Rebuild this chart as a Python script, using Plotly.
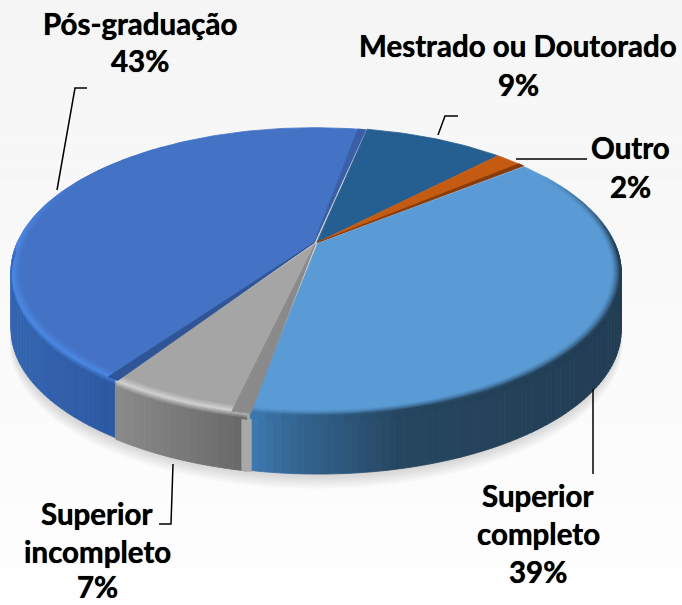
import math
import plotly.graph_objects as go

# ---- data ----
categories = ["Mestrado ou Doutorado", "Outro", "Superior completo", "Superior incompleto", "Pós-graduação"]
values = [9, 2, 38.7, 6.5, 43.8]
label_lines = [["Mestrado ou Doutorado", "9%"], ["Outro", "2%"], ["Superior", "completo", "39%"],
               ["Superior", "incompleto", "7%"], ["Pós-graduação", "43%"]]
face_colors = ["#255e91", "#c55a11", "#5b9bd5", "#a5a5a5", "#4472c4"]
label_x = [518, 630, 538, 97, 140]
label_y = [[45, 84], [147, 186], [495, 533, 571], [513, 551, 586], [23, 60]]

# ---- geometry of the tilted pie (pixels) ----
XC, YC, A, B, K, DEPTH = 316, 243, 297, 138, 0.199, 58
START = 11.7
EXPLODE = 0.007


def hex2rgb(h):
    return tuple(int(h[i:i + 2], 16) for i in (1, 3, 5))


def mix(c1, c2, t):
    a, b = hex2rgb(c1), hex2rgb(c2)
    t = max(0, min(1, t))
    return "#%02x%02x%02x" % tuple(round(a[i] + (b[i] - a[i]) * t) for i in range(3))


def ramp(stops, x):
    if x <= stops[0][0]:
        return stops[0][1]
    for (x0, c0), (x1, c1) in zip(stops, stops[1:]):
        if x <= x1:
            return mix(c0, c1, (x - x0) / (x1 - x0))
    return stops[-1][1]


def P(th, r=1.0, z=0.0, off=(0, 0)):
    t = math.radians(th)
    u, v = r * math.sin(t) + off[0], r * math.cos(t) + off[1]
    d = 1 + K * v
    return XC + A * u / d, YC - B * v / d + DEPTH * z


def frange(a, b, step):
    n = max(1, int(math.ceil((b - a) / step)))
    return [a + (b - a) * i / n for i in range(n + 1)]


def poly(fig, pts, color, line=0.8):
    xs = [p[0] for p in pts] + [pts[0][0]]
    ys = [p[1] for p in pts] + [pts[0][1]]
    fig.add_trace(go.Scatter(x=xs, y=ys, mode="lines", fill="toself", fillcolor=color,
                             line=dict(color=color, width=line), hoverinfo="skip", showlegend=False))


fig = go.Figure()

# angular extents
spans = []
a0 = START
total = sum(values)
for v in values:
    a1 = a0 + 360 * v / total
    spans.append((a0, a1))
    a0 = a1
offs = []
for a, b in spans:
    m = math.radians((a + b) / 2)
    offs.append((EXPLODE * math.sin(m), EXPLODE * math.cos(m)))

# soft shadow under the pie
for i in range(8):
    s = i / 7
    pts = [P(th, 1.0 + 0.012 * (1 - s), 1.0 + 0.22 * (1 - s)) for th in frange(0, 360, 4)]
    poly(fig, pts, "rgba(90,90,90,0.035)", line=0)

side_ramps = {
    2: [(252, "#3d78b0"), (300, "#33648f"), (400, "#264660"), (620, "#223d54")],
    3: [(110, "#8c8c8c"), (245, "#686868")],
    4: [(10, "#3566b2"), (110, "#2d59a3")],
}
hilite = {2: "#4f8fd2", 3: "#d2d2d2", 4: "#4c88e2"}

# outer side walls
for i in (2, 3, 4):
    a, b = spans[i]
    lo, hi = max(a, 90), min(b, 270)
    grid = frange(lo, hi, 1.2)
    for t0, t1 in zip(grid, grid[1:]):
        x = P((t0 + t1) / 2, off=offs[i])[0]
        pts = [P(t, 1, 0, offs[i]) for t in (t0, t1)] + [P(t, 1, 1, offs[i]) for t in (t1, t0)]
        poly(fig, pts, ramp(side_ramps[i], x))

# gray slice's cut end, next to the light-blue slice
a, b = spans[3]
poly(fig, [P(a + 0.8, 1, 0, offs[3]), P(a - 0.7, 1, 0, offs[3]), P(a - 0.7, 1, 1, offs[3]), P(a + 0.8, 1, 1, offs[3])],
     "#a8a8a8")

# top faces
for i, (a, b) in enumerate(spans):
    pts = [P(0, 0, 0, offs[i])] + [P(t, 1, 0, offs[i]) for t in frange(a, b, 1)]
    poly(fig, pts, face_colors[i])

# bevel around the visible rim
N_RIM = 5
for i in (2, 3, 4):
    a, b = spans[i]
    lo = a if i != 2 else 58
    hi = b if i != 4 else 325
    grid = frange(lo, hi, 2.5)
    for t0, t1 in zip(grid, grid[1:]):
        mid = (t0 + t1) / 2
        front = max(0, min(1, (math.cos(math.radians(mid)) * -1 + 0.55) / 0.55))
        x = P(mid, off=offs[i])[0]
        sc = ramp(side_ramps[i], x)
        for k in range(N_RIM):
            s0, s1 = k / N_RIM, (k + 1) / N_RIM
            r0, r1 = 0.972 + 0.028 * s0, 0.972 + 0.028 * s1
            if i == 2:
                target = mix(face_colors[2], sc, s1 ** 1.5)
            else:
                target = mix(face_colors[i], hilite[i], s1)
            col = mix(face_colors[i], target, front)
            pts = [P(t, r0, 0, offs[i]) for t in (t0, t1)] + [P(t, r1, 0, offs[i]) for t in (t1, t0)]
            poly(fig, pts, col, line=0.5)
        if 92 < mid < 268:
            for k in range(N_RIM):
                s0, s1 = k / N_RIM, (k + 1) / N_RIM
                z0, z1 = 0.11 * s0, 0.11 * s1
                start = sc if i == 2 else hilite[i]
                col = mix(start, sc, s1)
                pts = [P(t, 1, z0, offs[i]) for t in (t0, t1)] + [P(t, 1, z1, offs[i]) for t in (t1, t0)]
                poly(fig, pts, col, line=0.5)

# darker cut walls seen between slices: (slice, from, to, colour)
walls = [
    (4, spans[4][0] - 0.6, spans[4][0] + 1.4, "#2f5597"),
    (4, spans[4][1] - 1.6, spans[4][1] + 0.3, "#3a5fa6"),
    (3, spans[3][0] - 0.6, spans[3][0] + 2.4, "#8a8a8a"),
    (1, spans[1][1] - 1.3, spans[1][1], "#843c0c"),
]
for i, t0, t1, c in walls:
    pts = [P(0, 0, 0, offs[i])] + [P(t, 1, 0, offs[i]) for t in frange(t0, t1, 0.5)]
    poly(fig, pts, c)

# leader lines
leaders = [
    ([57, 75, 87], [190, 88, 88]),
    ([438, 445, 458], [135, 116, 116]),
    ([516, 587], [159, 159]),
    ([593, 593], [389, 474]),
    ([173, 171, 159], [464, 524, 524]),
]
for xs, ys in leaders:
    fig.add_trace(go.Scatter(x=xs, y=ys, mode="lines", line=dict(color="#000000", width=1.5),
                             hoverinfo="skip", showlegend=False))

# labels
annotations = []
for lines, x, ys in zip(label_lines, label_x, label_y):
    for txt, y in zip(lines, ys):
        annotations.append(dict(x=x, y=y, text="<b>%s</b>" % txt, showarrow=False, xanchor="center",
                                yanchor="middle",
                                font=dict(family="Lato", size=29.5, color="#000000", shadow="0 0 0.7px #000")))

# page background gradient
shapes = []
BANDS = 30
for i in range(BANDS):
    shapes.append(dict(type="rect", xref="x", yref="y", x0=0, x1=682, y0=605 * i / BANDS, y1=605 * (i + 1) / BANDS,
                       fillcolor=mix("#f5f5f5", "#fefefe", i / (BANDS - 1)), line=dict(width=0), layer="below"))

fig.update_layout(
    width=682, height=605, margin=dict(l=0, r=0, t=0, b=0), showlegend=False,
    paper_bgcolor="#ffffff", plot_bgcolor="#ffffff", annotations=annotations, shapes=shapes,
    xaxis=dict(range=[0, 682], visible=False, fixedrange=True),
    yaxis=dict(range=[605, 0], visible=False, fixedrange=True),
)
fig.write_html("out.html", config={"displayModeBar": False},
               post_script="document.body.style.margin='0';document.body.style.overflow='hidden';")
